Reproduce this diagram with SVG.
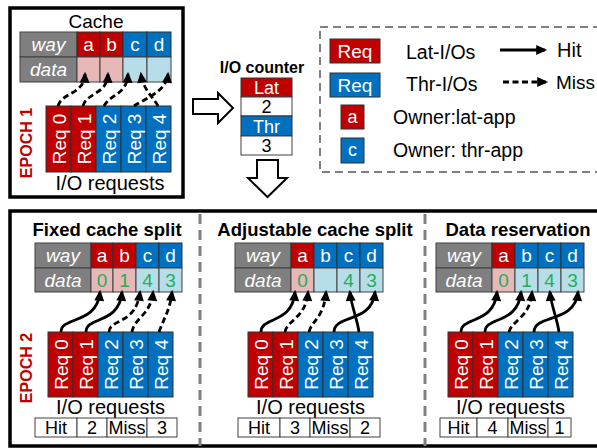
<svg xmlns="http://www.w3.org/2000/svg" width="597" height="448" viewBox="0 0 597 448">
<defs>
<style>
text{font-family:"Liberation Sans",Arial,sans-serif}
.w{fill:#fff}
.k{fill:#000}
.bd{font-weight:bold}
.it{font-style:italic}
.m{text-anchor:middle}
.gray{fill:#7f7f7f;stroke:#404040;stroke-width:1}
.red{fill:#c00000;stroke:#303030;stroke-width:1}
.blue{fill:#0070c0;stroke:#303030;stroke-width:1}
.pink{fill:#e6b9b8;stroke:#404040;stroke-width:1}
.lb{fill:#b7dee8;stroke:#404040;stroke-width:1}
.wc{fill:#fff;stroke:#404040;stroke-width:1}
.g{fill:#1fae5a}
.ln{fill:none;stroke:#000;stroke-width:2.8;marker-end:url(#ah)}
.ds{stroke-dasharray:6 3.5}
.ep{fill:#c00000;font-weight:bold;font-size:16px;text-anchor:middle}
.rq{fill:#fff;font-size:19px;text-anchor:middle}
</style>
<marker id="ah" viewBox="0 0 10 10" refX="8" refY="5" markerWidth="12" markerHeight="11" markerUnits="userSpaceOnUse" orient="auto"><path d="M0,0.5 L10,5 L0,9.5 z" fill="#000"/></marker>
</defs>

<!-- Epoch 1 box -->
<g id="epoch1">
<rect x="10" y="8" width="173" height="189" fill="#fff" stroke="#000" stroke-width="3.5"/>
<text x="96" y="28" class="m" font-size="19">Cache</text>
<rect class="gray" x="20" y="32" width="57" height="25"/>
<rect class="gray" x="20" y="57" width="57" height="25"/>
<rect class="red" x="77" y="32" width="23" height="25"/>
<rect class="red" x="100" y="32" width="23" height="25"/>
<rect class="blue" x="123" y="32" width="24" height="25"/>
<rect class="blue" x="147" y="32" width="24" height="25"/>
<rect class="pink" x="77" y="57" width="23" height="25"/>
<rect class="pink" x="100" y="57" width="23" height="25"/>
<rect class="lb" x="123" y="57" width="24" height="25"/>
<rect class="lb" x="147" y="57" width="24" height="25"/>
<text x="48.5" y="51" class="w it m" font-size="19">way</text>
<text x="48.5" y="76" class="w it m" font-size="19">data</text>
<text x="88.5" y="51" class="w m" font-size="19">a</text>
<text x="111.5" y="51" class="w m" font-size="19">b</text>
<text x="135" y="51" class="w m" font-size="19">c</text>
<text x="159" y="51" class="w m" font-size="19">d</text>
<rect class="red" x="46" y="106" width="25" height="66"/>
<rect class="red" x="71" y="106" width="25" height="66"/>
<rect class="blue" x="96" y="106" width="25" height="66"/>
<rect class="blue" x="121" y="106" width="25" height="66"/>
<rect class="blue" x="146" y="106" width="25" height="66"/>
<text class="rq" transform="translate(65.5,139) rotate(-90)">Req 0</text>
<text class="rq" transform="translate(90.5,139) rotate(-90)">Req 1</text>
<text class="rq" transform="translate(115.5,139) rotate(-90)">Req 2</text>
<text class="rq" transform="translate(140.5,139) rotate(-90)">Req 3</text>
<text class="rq" transform="translate(165.5,139) rotate(-90)">Req 4</text>
<text class="ep" transform="translate(32,143) rotate(-90)">EPOCH 1</text>
<text x="110" y="190" class="m" font-size="20">I/O requests</text>
</g>

<!-- I/O counter -->
<g id="counter">
<text x="262" y="73" class="m bd" font-size="16">I/O counter</text>
<rect class="red" x="241" y="78" width="51" height="19"/>
<rect class="wc" x="241" y="97" width="51" height="19"/>
<rect class="blue" x="241" y="116" width="51" height="20"/>
<rect class="wc" x="241" y="136" width="51" height="19"/>
<text x="266.5" y="94" class="w m" font-size="18">Lat</text>
<text x="266.5" y="113" class="m" font-size="18">2</text>
<text x="266.5" y="133" class="w m" font-size="18">Thr</text>
<text x="266.5" y="152" class="m" font-size="18">3</text>
</g>

<g id="bigarrows">
<polygon points="193,99 218,99 218,93 233,108 218,123 218,114 193,114" fill="#fff" stroke="#000" stroke-width="2"/>
<polygon points="257,160 278,160 278,178 287,178 267.5,197 248,178 257,178" fill="#fff" stroke="#000" stroke-width="2"/>
</g>

<!-- Legend -->
<g id="legend">
<rect x="320" y="27" width="290" height="145" fill="none" stroke="#808080" stroke-width="2" stroke-dasharray="8 5"/>
<rect class="red" x="330" y="39" width="50" height="24"/>
<text x="355" y="58" class="w m" font-size="19">Req</text>
<rect class="blue" x="330" y="73" width="50" height="24"/>
<text x="355" y="92" class="w m" font-size="19">Req</text>
<text x="406" y="59" font-size="19.5">Lat-I/Os</text>
<text x="406" y="91" font-size="19.5">Thr-I/Os</text>
<rect class="red" x="341" y="105" width="23" height="24"/>
<text x="352.5" y="123" class="w m" font-size="18">a</text>
<rect class="blue" x="341" y="138" width="23" height="25"/>
<text x="352.5" y="156" class="w m" font-size="18">c</text>
<text x="393" y="124" font-size="19.5">Owner:lat-app</text>
<text x="393" y="157" font-size="19.5">Owner: thr-app</text>
<line x1="500" y1="50" x2="545" y2="50" class="ln"/>
<line x1="503" y1="82" x2="546" y2="82" class="ln ds"/>
<text x="557" y="57" font-size="20">Hit</text>
<text x="556" y="89" font-size="19">Miss</text>
</g>

<!-- Epoch 2 frame -->
<g id="epoch2">
<rect x="10" y="211" width="600" height="235" fill="none" stroke="#000" stroke-width="3.5"/>
<line x1="200" y1="214" x2="200" y2="446" stroke="#808080" stroke-width="3" stroke-dasharray="10 6"/>
<line x1="425" y1="214" x2="425" y2="446" stroke="#808080" stroke-width="3" stroke-dasharray="10 6"/>
<text class="ep" transform="translate(32,368) rotate(-90)">EPOCH 2</text>
</g>

<!-- Panel 1 -->
<g id="fixed">
<text x="107" y="236" class="m bd" font-size="18.5">Fixed cache split</text>
<rect class="gray" x="35" y="243" width="56" height="25"/>
<rect class="gray" x="35" y="268" width="56" height="24"/>
<rect class="red" x="91" y="243" width="22" height="25"/>
<rect class="red" x="113" y="243" width="23" height="25"/>
<rect class="blue" x="136" y="243" width="23" height="25"/>
<rect class="blue" x="159" y="243" width="23" height="25"/>
<rect class="pink" x="91" y="268" width="22" height="24"/>
<rect class="pink" x="113" y="268" width="23" height="24"/>
<rect class="lb" x="136" y="268" width="23" height="24"/>
<rect class="lb" x="159" y="268" width="23" height="24"/>
<text x="63" y="262" class="w it m" font-size="19">way</text>
<text x="63" y="287" class="w it m" font-size="19">data</text>
<text x="102" y="262" class="w m" font-size="19">a</text>
<text x="124.5" y="262" class="w m" font-size="19">b</text>
<text x="147.5" y="262" class="w m" font-size="19">c</text>
<text x="170.5" y="262" class="w m" font-size="19">d</text>
<text x="102" y="287" class="g m" font-size="19">0</text>
<text x="124.5" y="287" class="g m" font-size="19">1</text>
<text x="147.5" y="287" class="g m" font-size="19">4</text>
<text x="170.5" y="287" class="g m" font-size="19">3</text>
<rect class="red" x="48" y="332" width="25" height="65"/>
<rect class="red" x="73" y="332" width="25" height="65"/>
<rect class="blue" x="98" y="332" width="25" height="65"/>
<rect class="blue" x="123" y="332" width="25" height="65"/>
<rect class="blue" x="148" y="332" width="25" height="65"/>
<text class="rq" transform="translate(67.5,364.5) rotate(-90)">Req 0</text>
<text class="rq" transform="translate(92.5,364.5) rotate(-90)">Req 1</text>
<text class="rq" transform="translate(117.5,364.5) rotate(-90)">Req 2</text>
<text class="rq" transform="translate(142.5,364.5) rotate(-90)">Req 3</text>
<text class="rq" transform="translate(167.5,364.5) rotate(-90)">Req 4</text>
<text x="110.5" y="414" class="m" font-size="20">I/O requests</text>
<rect class="wc" x="35" y="418" width="42" height="19"/>
<rect class="wc" x="77" y="418" width="30" height="19"/>
<rect class="wc" x="107" y="418" width="40" height="19"/>
<rect class="wc" x="147" y="418" width="30" height="19"/>
<text x="56" y="434" class="m" font-size="18">Hit</text>
<text x="92" y="434" class="m" font-size="18">2</text>
<text x="127" y="434" class="m" font-size="18">Miss</text>
<text x="162" y="434" class="m" font-size="18">3</text>
</g>

<!-- Panel 2 -->
<g id="adjustable">
<text x="315" y="236" class="m bd" font-size="18.5">Adjustable cache split</text>
<rect class="gray" x="235" y="243" width="56" height="25"/>
<rect class="gray" x="235" y="268" width="56" height="24"/>
<rect class="red" x="291" y="243" width="23" height="25"/>
<rect class="blue" x="314" y="243" width="23" height="25"/>
<rect class="blue" x="337" y="243" width="23" height="25"/>
<rect class="blue" x="360" y="243" width="23" height="25"/>
<rect class="pink" x="291" y="268" width="23" height="24"/>
<rect class="lb" x="314" y="268" width="23" height="24"/>
<rect class="lb" x="337" y="268" width="23" height="24"/>
<rect class="lb" x="360" y="268" width="23" height="24"/>
<text x="263" y="262" class="w it m" font-size="19">way</text>
<text x="263" y="287" class="w it m" font-size="19">data</text>
<text x="302.5" y="262" class="w m" font-size="19">a</text>
<text x="325.5" y="262" class="w m" font-size="19">b</text>
<text x="348.5" y="262" class="w m" font-size="19">c</text>
<text x="371.5" y="262" class="w m" font-size="19">d</text>
<text x="302.5" y="287" class="g m" font-size="19">0</text>
<text x="348.5" y="287" class="g m" font-size="19">4</text>
<text x="371.5" y="287" class="g m" font-size="19">3</text>
<rect class="red" x="248" y="332" width="25" height="65"/>
<rect class="red" x="273" y="332" width="25" height="65"/>
<rect class="blue" x="298" y="332" width="25" height="65"/>
<rect class="blue" x="323" y="332" width="25" height="65"/>
<rect class="blue" x="348" y="332" width="25" height="65"/>
<text class="rq" transform="translate(267.5,364.5) rotate(-90)">Req 0</text>
<text class="rq" transform="translate(292.5,364.5) rotate(-90)">Req 1</text>
<text class="rq" transform="translate(317.5,364.5) rotate(-90)">Req 2</text>
<text class="rq" transform="translate(342.5,364.5) rotate(-90)">Req 3</text>
<text class="rq" transform="translate(367.5,364.5) rotate(-90)">Req 4</text>
<text x="310.5" y="414" class="m" font-size="20">I/O requests</text>
<rect class="wc" x="238" y="418" width="42" height="19"/>
<rect class="wc" x="280" y="418" width="30" height="19"/>
<rect class="wc" x="310" y="418" width="40" height="19"/>
<rect class="wc" x="350" y="418" width="30" height="19"/>
<text x="259" y="434" class="m" font-size="18">Hit</text>
<text x="295" y="434" class="m" font-size="18">3</text>
<text x="330" y="434" class="m" font-size="18">Miss</text>
<text x="365" y="434" class="m" font-size="18">2</text>
</g>

<!-- Panel 3 -->
<g id="reservation">
<text x="518" y="236" class="m bd" font-size="18.5">Data reservation</text>
<rect class="gray" x="436" y="243" width="56" height="25"/>
<rect class="gray" x="436" y="268" width="56" height="24"/>
<rect class="red" x="492" y="243" width="23" height="25"/>
<rect class="blue" x="515" y="243" width="23" height="25"/>
<rect class="blue" x="538" y="243" width="23" height="25"/>
<rect class="blue" x="561" y="243" width="23" height="25"/>
<rect class="pink" x="492" y="268" width="23" height="24"/>
<rect class="lb" x="515" y="268" width="23" height="24"/>
<rect class="lb" x="538" y="268" width="23" height="24"/>
<rect class="lb" x="561" y="268" width="23" height="24"/>
<text x="464" y="262" class="w it m" font-size="19">way</text>
<text x="464" y="287" class="w it m" font-size="19">data</text>
<text x="503.5" y="262" class="w m" font-size="19">a</text>
<text x="526.5" y="262" class="w m" font-size="19">b</text>
<text x="549.5" y="262" class="w m" font-size="19">c</text>
<text x="572.5" y="262" class="w m" font-size="19">d</text>
<text x="503.5" y="287" class="g m" font-size="19">0</text>
<text x="526.5" y="287" class="g m" font-size="19">1</text>
<text x="549.5" y="287" class="g m" font-size="19">4</text>
<text x="572.5" y="287" class="g m" font-size="19">3</text>
<rect class="red" x="448" y="332" width="25" height="65"/>
<rect class="red" x="473" y="332" width="25" height="65"/>
<rect class="blue" x="498" y="332" width="25" height="65"/>
<rect class="blue" x="523" y="332" width="25" height="65"/>
<rect class="blue" x="548" y="332" width="25" height="65"/>
<text class="rq" transform="translate(467.5,364.5) rotate(-90)">Req 0</text>
<text class="rq" transform="translate(492.5,364.5) rotate(-90)">Req 1</text>
<text class="rq" transform="translate(517.5,364.5) rotate(-90)">Req 2</text>
<text class="rq" transform="translate(542.5,364.5) rotate(-90)">Req 3</text>
<text class="rq" transform="translate(567.5,364.5) rotate(-90)">Req 4</text>
<text x="510.5" y="414" class="m" font-size="20">I/O requests</text>
<rect class="wc" x="440" y="418" width="37" height="19"/>
<rect class="wc" x="477" y="418" width="31" height="19"/>
<rect class="wc" x="508" y="418" width="40" height="19"/>
<rect class="wc" x="548" y="418" width="23" height="19"/>
<text x="458.5" y="434" class="m" font-size="18">Hit</text>
<text x="492.5" y="434" class="m" font-size="18">4</text>
<text x="528" y="434" class="m" font-size="18">Miss</text>
<text x="559.5" y="434" class="m" font-size="18">1</text>
</g>

<!-- Connectors -->
<g id="connectors">
<path class="ln ds" d="M58,106 C62,92 84,95 85,74"/>
<path class="ln ds" d="M83,106 C87,92 107,95 108,74"/>
<path class="ln ds" d="M104,106 C110,94 127,95 128,74"/>
<path class="ln ds" d="M134,106 C146,98 166,92 168,74"/>
<path class="ln ds" d="M158,106 C154,98 143,90 141,74"/>

<path class="ln" d="M61,332 C61,316 97,325 100,292"/>
<path class="ln" d="M86,332 C86,316 119,325 122,292"/>
<path class="ln ds" d="M109,332 C110,318 136,325 140,292"/>
<path class="ln ds" d="M132,332 C134,318 151,315 153,292"/>
<path class="ln ds" d="M159,332 C164,318 170,310 172,292"/>

<path class="ln" d="M261,332 C261,316 292,325 295,292"/>
<path class="ln ds" d="M285,332 C287,320 306,318 308,292"/>
<path class="ln ds" d="M309,332 C312,320 324,318 326,292"/>
<path class="ln" d="M334,332 C334,314 372,324 375,292"/>
<path class="ln" d="M359,332 C357,318 351,305 350,292"/>

<path class="ln" d="M461,332 C461,316 494,325 497,292"/>
<path class="ln" d="M485,332 C485,316 518,325 521,292"/>
<path class="ln ds" d="M509,332 C512,320 530,318 532,292"/>
<path class="ln" d="M534,332 C534,314 575,324 578,292"/>
<path class="ln" d="M559,332 C557,318 551,305 550,292"/>
</g>
</svg>
